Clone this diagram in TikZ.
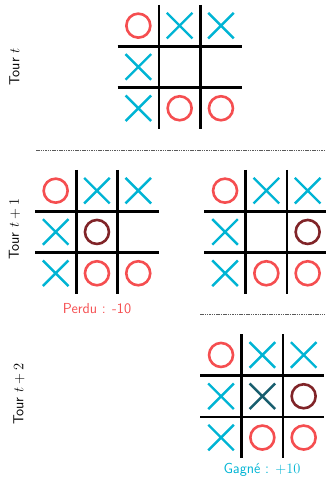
\documentclass[tikz,border=0pt]{standalone}
\usepackage{fontspec}
\definecolor{ored}{RGB}{245,78,80}
\definecolor{xcyan}{RGB}{0,180,212}
\definecolor{odark}{RGB}{128,36,40}
\definecolor{xdark}{RGB}{24,94,110}
\definecolor{sepgray}{RGB}{90,90,90}
\def\cs{41.3}
\newcommand\cellX[3][xcyan]{%
  \begin{scope}[shift={({(#2+0.5)*\cs},{(#3+0.5)*\cs})}]
    \draw[xmark,draw=#1] (-12.8,-12.8) -- (12.8,12.8) (-12.8,12.8) -- (12.8,-12.8);
  \end{scope}}
\newcommand\cellO[3][ored]{%
  \begin{scope}[shift={({(#2+0.5)*\cs},{(#3+0.5)*\cs})}]
    \draw[omark,draw=#1] (0,0) circle[radius=12];
  \end{scope}}
\newcommand\tttgrid{%
  \draw[gridline] (\cs,0) -- (\cs,3*\cs) (2*\cs,0) -- (2*\cs,3*\cs)
                  (0,\cs) -- (3*\cs,\cs) (0,2*\cs) -- (3*\cs,2*\cs);
  \cellO{0}{0}\cellX{1}{0}\cellX{2}{0}
  \cellX{0}{1}
  \cellX{0}{2}\cellO{1}{2}\cellO{2}{2}}
\begin{document}
\begin{tikzpicture}[x=1pt,y=-1pt,
  gridline/.style={line width=2.8pt,black},
  xmark/.style={line width=2.4pt},
  omark/.style={line width=2.6pt},
  lbl/.style={font=\fontsize{14.5}{17}\selectfont\sffamily,inner sep=0pt},
  turnlbl/.style={lbl,rotate=90,black},
  sep/.style={draw=sepgray,line width=0.8pt,dash pattern=on 1.5pt off 0.8pt}]
\useasboundingbox (0,0) rectangle (325,478);
% turn t
\begin{scope}[shift={(117.7,5)}]
  \tttgrid
\end{scope}
% turn t+1, left
\begin{scope}[shift={(35,170)}]
  \tttgrid
  \cellO[odark]{1}{1}
\end{scope}
% turn t+1, right
\begin{scope}[shift={(204.4,170)}]
  \tttgrid
  \cellO[odark]{2}{1}
\end{scope}
% turn t+2
\begin{scope}[shift={(200.4,334.3)}]
  \tttgrid
  \cellX[xdark]{1}{1}
  \cellO[odark]{2}{1}
\end{scope}
% separators
\coordinate (s1a) at (36,150);
\coordinate (s1b) at (325,150);
\coordinate (s2a) at (200,314);
\coordinate (s2b) at (325,314);
\draw[sep] (s1a) -- (s1b);
\draw[sep] (s2a) -- (s2b);
% labels
\node[turnlbl] (tour0) at (14.5,67) {Tour $t$};
\node[turnlbl] (tour1) at (14.5,229) {Tour $t+1$};
\node[turnlbl] (tour2) at (19,394) {Tour $t+2$};
\node[lbl,text=ored] (perdu) at (97,309) {Perdu : -10};
\node[lbl,text=xcyan] (gagne) at (262,470) {Gagné : $+10$};
\end{tikzpicture}
\end{document}
